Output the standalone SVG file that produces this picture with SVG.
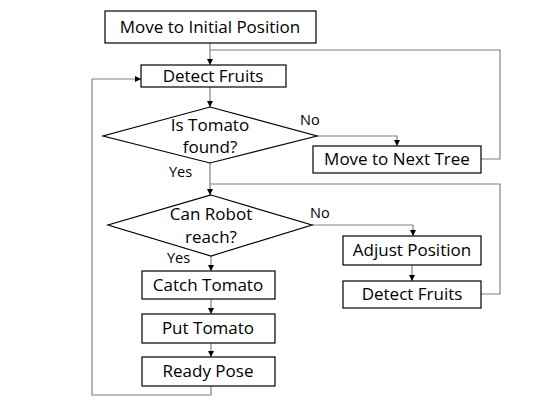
<svg xmlns="http://www.w3.org/2000/svg" width="555" height="411" viewBox="0 0 555 411">
<style>
.n{fill:#fff;stroke:#000;stroke-width:1.2}
.t{font-family:"Open Sans","Liberation Sans",sans-serif;font-size:17px;fill:#000;text-anchor:middle}
.l{font-family:"Open Sans","Liberation Sans",sans-serif;font-size:14.5px;fill:#000}
.c{fill:none;stroke:#808080;stroke-width:1.2}
</style>
<defs>
<marker id="a" viewBox="0 0 6 6" refX="6" refY="3" markerWidth="6" markerHeight="6" orient="auto" markerUnits="userSpaceOnUse">
<path d="M0,0 L6,3 L0,6 z" fill="#000"/>
</marker>
</defs>
<rect width="555" height="411" fill="#fff"/>
<g id="connectors">
<path class="c" d="M210,43 V65" marker-end="url(#a)"/>
<path class="c" d="M481,159 H500 V50 H210"/>
<path class="c" d="M92,79 H141" marker-end="url(#a)"/>
<path class="c" d="M211,386 V395 H92 V79"/>
<path class="c" d="M210,87 V107" marker-end="url(#a)"/>
<path class="c" d="M317,136 H397 V146" marker-end="url(#a)"/>
<path class="c" d="M210,163 V195" marker-end="url(#a)"/>
<path class="c" d="M481,294 H500 V184 H210"/>
<path class="c" d="M312,225 H413 V236" marker-end="url(#a)"/>
<path class="c" d="M412,265 V281" marker-end="url(#a)"/>
<path class="c" d="M211,256 V271" marker-end="url(#a)"/>
<path class="c" d="M211,299 V314" marker-end="url(#a)"/>
<path class="c" d="M211,343 V357" marker-end="url(#a)"/>
<text class="l" x="300" y="125">No</text>
<text class="l" x="169" y="177">Yes</text>
<text class="l" x="310" y="218">No</text>
<text class="l" x="167" y="263">Yes</text>
</g>
<g id="n1"><rect class="n" x="105" y="11" width="211" height="32"/><text class="t" x="210" y="33">Move to Initial Position</text></g>
<g id="n2"><rect class="n" x="141" y="65" width="145" height="22"/><text class="t" x="213" y="82">Detect Fruits</text></g>
<g id="n3"><polygon class="n" points="210,107 317,136 210,163 103,136"/><text class="t" x="210" y="131">Is Tomato</text><text class="t" x="210" y="153">found?</text></g>
<g id="n4"><rect class="n" x="313" y="146" width="168" height="27"/><text class="t" x="397" y="165">Move to Next Tree</text></g>
<g id="n5"><polygon class="n" points="211,195 312,225 211,256 108,225"/><text class="t" x="211" y="220">Can Robot</text><text class="t" x="211" y="243">reach?</text></g>
<g id="n6"><rect class="n" x="343" y="236" width="138" height="29"/><text class="t" x="412" y="256">Adjust Position</text></g>
<g id="n7"><rect class="n" x="343" y="281" width="138" height="27"/><text class="t" x="412" y="300">Detect Fruits</text></g>
<g id="n8"><rect class="n" x="142" y="271" width="133" height="28"/><text class="t" x="208" y="291">Catch Tomato</text></g>
<g id="n9"><rect class="n" x="142" y="314" width="133" height="29"/><text class="t" x="208" y="334">Put Tomato</text></g>
<g id="n10"><rect class="n" x="142" y="357" width="133" height="29"/><text class="t" x="208" y="377">Ready Pose</text></g>
</svg>
